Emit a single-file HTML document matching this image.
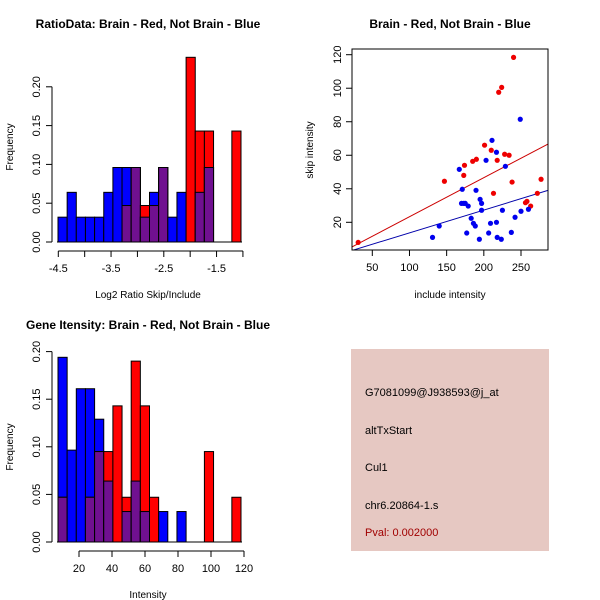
<!DOCTYPE html>
<html><head><meta charset="utf-8"><style>
body{margin:0;background:#fff}
svg{display:block;font-family:"Liberation Sans",Arial,sans-serif}
</style></head><body>
<svg id="s" width="600" height="600" viewBox="0 0 600 600">
<rect width="600" height="600" fill="#fff"/>
<g id="p1"></g>
<g id="p2"></g>
<g id="p3"></g>
<g>
<rect x="351" y="349" width="198" height="202" fill="#e6c8c2"/>
<text x="365" y="396" font-size="11" fill="#000">G7081099@J938593@j_at</text>
<text x="365" y="434" font-size="11" fill="#000">altTxStart</text>
<text x="365" y="471" font-size="11" fill="#000">Cul1</text>
<text x="365" y="509" font-size="11" fill="#000">chr6.20864-1.s</text>
<text x="365" y="536" font-size="11" fill="#a00000">Pval: 0.002000</text>
</g>
</svg>
<script>
// Ratio histogram data
const ratioBlue=[0.032,0.064,0.032,0.032,0.032,0.064,0.096,0.096,0.096,0.032,0.064,0.096,0.032,0.064,0,0.064,0.096,0,0,0];
const ratioRed=[0,0,0,0,0,0,0,0.047,0.096,0.047,0.047,0.096,0,0,0.238,0.143,0.143,0,0,0.143];
const ratioXTicks=[-4.5,-4,-3.5,-3,-2.5,-2,-1.5,-1];
const ratioXLabels=["-4.5","","-3.5","","-2.5","","-1.5",""];
const ratioYTicks=[0,0.05,0.1,0.15,0.2];
const ratioYLabels=["0.00","0.05","0.10","0.15","0.20"];
// Intensity histogram data
const intBlue=[0.194,0.0965,0.161,0.161,0.129,0.064,0,0.032,0.064,0.032,0,0.032,0,0.032,0,0,0,0,0,0];
const intRed=[0.047,0,0,0.047,0.095,0.095,0.143,0.047,0.19,0.143,0.047,0,0,0,0,0,0.095,0,0,0.047];
const intXTicks=[20,40,60,80,100,120];
const intYTicks=[0,0.05,0.1,0.15,0.2];
const intYLabels=["0.00","0.05","0.10","0.15","0.20"];
// Scatter data
const redX=[31,147,174,173,185,190,201,210,218,213,228,234,220,224,240,238,277,272,256,258,263];
const redY=[8,44.5,54,48,56.4,57.6,66,63,57,37.3,60.6,60,97.6,100.5,118.4,44,45.7,37.3,31.7,32.5,29.7];
const blueX=[131,140,167,171,170,173,175,179,183,186,188.5,177,189.5,195,197,197,194,203,211,217,229,209,217,206.5,218,223.5,225,237,242,250,260,249];
const blueY=[11,17.8,51.6,39.7,31.3,31.3,31.3,29.7,22.4,19.4,17.8,13.6,39.1,33.7,31.3,27.2,9.9,57,68.9,61.8,53.4,19.4,20,13.6,11,9.9,27.2,14,23,26.6,27.8,81.5];
const fitSlope=[0.233,0.136];
const fitIntercept=[0,0.1];
const scXTicks=[50,100,150,200,250];
const scYTicks=[20,40,60,80,100,120];

const NS="http://www.w3.org/2000/svg";
function mk(parent,tag,attrs,txt){const e=document.createElementNS(NS,tag);for(const k in attrs)e.setAttribute(k,attrs[k]);if(txt!==undefined)e.textContent=txt;parent.appendChild(e);return e;}

function hist(g,o){
  const sx=v=>o.x0+(v-o.v0)*o.kx, sy=v=>o.y0-v*o.ky;
  for(let i=0;i<o.blue.length;i++){
    const l=o.bx0+i*o.bw, b=o.blue[i], r=o.red[i];
    if(b>0){const e=mk(g,'rect',{x:l,y:sy(b),width:o.bw,height:b*o.ky,fill:'#0000ff',stroke:'#000','stroke-width':1});
      
      }
    if(r>0){const e=mk(g,'rect',{x:l,y:sy(r),width:o.bw,height:r*o.ky,fill:'#ff0000',stroke:'#000','stroke-width':1});
      
      }
    const m=Math.min(b,r);
    if(m>0){const e=mk(g,'rect',{x:l,y:sy(m),width:o.bw,height:m*o.ky,fill:'#701090',stroke:'#000','stroke-width':1});
      
      }
  }
  mk(g,'line',{x1:o.bx0-1,x2:o.bx0+o.blue.length*o.bw+1,y1:o.y0,y2:o.y0,stroke:'#000'});
  // y axis
  const ya=mk(g,'g',{});
  
  
  mk(ya,'line',{x1:o.ax,x2:o.ax,y1:sy(o.yt[0]),y2:sy(o.yt[o.yt.length-1]),stroke:'#000'});
  o.yt.forEach((t,i)=>{mk(ya,'line',{x1:o.ax-6,x2:o.ax,y1:sy(t),y2:sy(t),stroke:'#000'});
    mk(ya,'text',{x:o.ax-12,y:sy(t),'font-size':11,'text-anchor':'middle',transform:`rotate(-90 ${o.ax-12} ${sy(t)})`},o.yl[i]);});
  const xa=mk(g,'g',{});
  
  
  mk(xa,'line',{x1:sx(o.xt[0]),x2:sx(o.xt[o.xt.length-1]),y1:o.ay,y2:o.ay,stroke:'#000'});
  o.xt.forEach((t,i)=>{mk(xa,'line',{x1:sx(t),x2:sx(t),y1:o.ay,y2:o.ay+6,stroke:'#000'});
    if(o.xl[i])mk(xa,'text',{x:sx(t),y:o.ay+21,'font-size':11,'text-anchor':'middle'},o.xl[i]);});
}

const p1=document.getElementById('p1');
hist(p1,{blue:ratioBlue,red:ratioRed,bx0:58,bw:9.15,x0:58.3,v0:-4.5,kx:52.75,y0:242,ky:776,ax:52,ay:251,
  xt:ratioXTicks,xl:ratioXLabels,yt:ratioYTicks,yl:ratioYLabels});
let t=mk(p1,'text',{x:148,y:28,'font-size':12,'font-weight':'bold','text-anchor':'middle'},'RatioData: Brain - Red, Not Brain - Blue');


t=mk(p1,'text',{x:148,y:298,'font-size':10,'text-anchor':'middle'},'Log2 Ratio Skip/Include');


t=mk(p1,'text',{x:13,y:147,'font-size':10,'text-anchor':'middle',transform:'rotate(-90 13 147)'},'Frequency');



const p3=document.getElementById('p3');
hist(p3,{blue:intBlue,red:intRed,bx0:58,bw:9.15,x0:79,v0:20,kx:1.65,y0:542,ky:952,ax:52,ay:551,
  xt:intXTicks,xl:intXTicks.map(String),yt:intYTicks,yl:intYLabels});
t=mk(p3,'text',{x:148,y:329,'font-size':12,'font-weight':'bold','text-anchor':'middle'},'Gene Itensity: Brain - Red, Not Brain - Blue');


t=mk(p3,'text',{x:148,y:598,'font-size':10,'text-anchor':'middle'},'Intensity');


t=mk(p3,'text',{x:13,y:447,'font-size':10,'text-anchor':'middle',transform:'rotate(-90 13 447)'},'Frequency');



// scatter
const p2=document.getElementById('p2');
const L=352,R=548,T=49,B=250;
const sx=v=>372.3+(v-50)*0.7435, sy=v=>222.3-(v-20)*1.676;
const xmin=(L-372.3)/0.7435+50, xmax=(R-372.3)/0.7435+50;
const cp=mk(p2,'clipPath',{id:'clp'});mk(cp,'rect',{x:L,y:T,width:R-L,height:B-T});
const lc=['#cc0000','#0000aa'];
fitSlope.forEach((s,i)=>{const e=mk(p2,'line',{x1:sx(xmin),y1:sy(fitIntercept[i]+s*xmin),x2:sx(xmax),y2:sy(fitIntercept[i]+s*xmax),stroke:lc[i],'stroke-width':1,'clip-path':'url(#clp)'});
  
  });
redX.forEach((x,i)=>{const e=mk(p2,'circle',{cx:sx(x),cy:sy(redY[i]),r:2.6,fill:'#ee0000'});
  
  });
blueX.forEach((x,i)=>{const e=mk(p2,'circle',{cx:sx(x),cy:sy(blueY[i]),r:2.6,fill:'#0000ee'});
  
  });
const fr=mk(p2,'rect',{x:L,y:T,width:R-L,height:B-T,fill:'none',stroke:'#000'});


scXTicks.forEach(v=>{mk(p2,'line',{x1:sx(v),x2:sx(v),y1:B,y2:B+6,stroke:'#000'});mk(p2,'text',{x:sx(v),y:B+21,'font-size':11,'text-anchor':'middle'},String(v));});
scYTicks.forEach(v=>{mk(p2,'line',{x1:L-6,x2:L,y1:sy(v),y2:sy(v),stroke:'#000'});mk(p2,'text',{x:L-11,y:sy(v),'font-size':11,'text-anchor':'middle',transform:`rotate(-90 ${L-11} ${sy(v)})`},String(v));});
t=mk(p2,'text',{x:450,y:28,'font-size':12,'font-weight':'bold','text-anchor':'middle'},'Brain - Red, Not Brain - Blue');


t=mk(p2,'text',{x:450,y:298,'font-size':10,'text-anchor':'middle'},'include intensity');


t=mk(p2,'text',{x:313,y:150,'font-size':10,'text-anchor':'middle',transform:'rotate(-90 313 150)'},'skip intensity');


</script>
</body></html>
